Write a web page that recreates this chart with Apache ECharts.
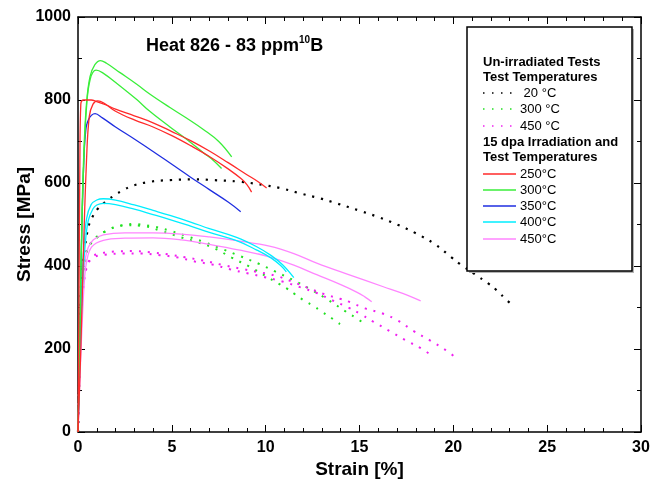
<!DOCTYPE html>
<html>
<head>
<meta charset="utf-8">
<script src="https://cdn.jsdelivr.net/npm/echarts@6/dist/echarts.min.js"></script>
<style>
  html, body { margin: 0; padding: 0; background: #fff; }
  #chart { width: 666px; height: 486px; }
</style>
</head>
<body>
<div id="chart"></div>
<script>
// [strain %, stress MPa]

// 15 dpa irradiated, test temperature
const irr250a = [[0,0],[0.05,300],[0.1,650],[0.15,790],[0.3,800],[0.7,800],[1.0,796],[1.5,788],[2,778],[3,762],[4,745],[5,724],[6,702],[7,677],[8,649],[9,620],[9.6,603],[10.05,588]];
const irr250b = [[0,0],[0.15,200],[0.3,450],[0.45,650],[0.6,760],[0.8,790],[1.05,798],[1.4,792],[2,773],[3,752],[4,735],[5,714],[6,690],[7,664],[8,634],[8.7,610],[9.0,596],[9.25,578]];
const irr300a = [[0,0],[0.1,250],[0.2,500],[0.3,660],[0.45,790],[0.64,856],[0.9,885],[1.2,895],[1.5,889],[2.24,866],[3.13,838],[3.84,814],[4.9,782],[5.8,756],[6.68,729],[7.5,700],[8.19,663]];
const irr300b = [[0,0],[0.1,250],[0.2,480],[0.3,640],[0.45,780],[0.65,850],[0.96,872],[1.3,866],[2.24,834],[3.13,801],[3.84,772],[4.9,735],[5.8,705],[6.68,673],[7.2,655],[7.65,635]];
const irr350 = [[0,0],[0.1,250],[0.2,480],[0.3,640],[0.4,720],[0.55,752],[0.91,767],[1.3,757],[2,735],[3,706],[4,676],[5,645],[6,614],[7,584],[8,554],[8.67,531]];
const irr400a = [[0,0],[0.1,200],[0.2,350],[0.3,440],[0.46,515],[0.7,548],[1.0,559],[1.35,562],[2,559],[3,547],[4,534],[4.9,522],[6,506],[7,490],[8.45,469],[9.5,447],[10.3,425],[10.9,403],[11.5,372]];
const irr400b = [[0,0],[0.12,200],[0.25,360],[0.38,450],[0.55,510],[0.8,538],[1.0,547],[1.35,551],[2,548],[3,537],[4,524],[4.9,512],[6,496],[7,481],[8.45,461],[9.5,439],[10.3,419],[10.8,401],[11.1,386]];
const irr450a = [[0,0],[0.1,150],[0.2,290],[0.28,374],[0.4,420],[0.55,445],[0.82,463],[1.35,475],[2.5,480],[4,480],[5.5,477],[7,470],[8.63,460],[10.2,448],[11.5,430],[12.72,407],[14.5,378],[16.27,350],[17.3,334],[18.26,316]];
const irr450b = [[0,0],[0.12,150],[0.25,290],[0.35,370],[0.46,410],[0.73,446],[1.35,462],[2.5,467],[4,468],[5.5,463],[7,452],[8.63,438],[9.5,430],[10.2,422],[11.5,402],[12.72,379],[14,355],[14.9,336],[15.3,325],[15.65,314]];

// un-irradiated, test temperature
const unirr20 = [[0,0],[0.05,100],[0.1,230],[0.2,390],[0.37,446],[0.55,493],[0.73,515],[1.08,539],[1.53,557],[1.97,571],[2.41,583],[2.95,594],[3.84,603],[4.9,607],[6.23,609],[7.21,607],[8.63,603],[10.05,594],[10.94,586],[11.92,574],[12.9,563],[13.78,551],[15.02,533],[16,518],[17,500],[18,479],[19,453],[19.9,421],[20.35,405],[21.15,380],[21.86,358],[22.3,342],[22.84,318],[23.28,302]];
const unirr300a = [[0,0],[0.1,200],[0.2,320],[0.4,420],[0.64,451],[1.08,471],[1.53,485],[2.06,495],[2.95,501],[3.92,496],[4.9,485],[5.79,472],[6.77,457],[7.74,440],[8.63,424],[9.6,406],[10.5,387],[11.47,366],[12.45,342],[13.34,318],[14.31,289],[14.84,274],[15.3,260]];
const unirr300b = [[0,0],[0.1,200],[0.2,320],[0.45,430],[0.8,462],[1.53,485],[2.5,498],[3.39,497],[4.46,484],[5.43,470],[6.32,458],[7.3,442],[8.19,420],[9.16,398],[10.14,372],[10.67,358],[11.12,346],[11.56,332],[12.0,318],[12.54,304],[12.98,290],[13.52,274],[13.96,260]];
const unirr450a = [[0,0],[0.1,180],[0.2,300],[0.4,390],[0.7,420],[1.0,428],[1.97,435],[2.95,436],[3.84,433],[4.81,428],[5.7,421],[6.68,413],[7.65,403],[8.63,394],[9.52,386],[10.5,377],[11.38,363],[12.27,347],[13.07,333],[13.96,321],[14.49,313],[15.29,298],[16.27,285],[17.07,268],[17.86,244],[18.75,221],[19.64,196],[20.08,181]];
const unirr450b = [[0,0],[0.1,180],[0.2,300],[0.45,395],[0.8,420],[1.44,427],[2.41,430],[3.39,430],[4.37,426],[5.26,421],[6.23,411],[7.21,403],[8.1,392],[9.07,382],[9.96,373],[10.94,362],[11.83,349],[12.72,335],[13.52,318],[14.4,300],[15.07,284],[15.73,266],[16.62,243],[17.42,222],[18.31,201],[18.75,187]];

const FONT = '"Liberation Sans", Arial, sans-serif';
const C = { red: '#ff2a2a', green: '#3aee3a', blue: '#1f2ee0', cyan: '#00eeff', pink: '#ff85ff', black: '#000', dgreen: '#22e022', dpink: '#f020f0' };

function solid(data, color) {
  return { type: 'line', data: data, showSymbol: false, smooth: 0.4,
    lineStyle: { color: color, width: 1.3 }, z: 3, silent: true };
}
function dotted(data, color, w) {
  return { type: 'line', data: data, showSymbol: false, smooth: 0.4,
    lineStyle: { color: color, width: w, type: [w, 9 - w], cap: 'butt' }, z: 2, silent: true };
}

function axisX(pos, labels) {
  return {
    type: 'value', position: pos, min: 0, max: 30, interval: 5,
    axisLine: { show: true, onZero: false, lineStyle: { color: '#000', width: 1.5 } },
    axisTick: { show: true, inside: true, length: 7, lineStyle: { color: '#000', width: 1 } },
    minorTick: { show: true, splitNumber: 5, length: 4, lineStyle: { color: '#000', width: 1 } },
    splitLine: { show: false },
    axisLabel: { show: labels, color: '#000', fontFamily: FONT, fontWeight: 'bold', fontSize: 16, margin: 8 },
    name: labels ? 'Strain [%]' : '', nameLocation: 'middle', nameGap: 28, nameMoveOverlap: false,
    nameTextStyle: { color: '#000', fontFamily: FONT, fontWeight: 'bold', fontSize: 19 }
  };
}
function axisY(pos, labels) {
  return {
    type: 'value', position: pos, min: 0, max: 1000, interval: 200,
    axisLine: { show: true, onZero: false, lineStyle: { color: '#000', width: 1.5 } },
    axisTick: { show: true, inside: true, length: 7, lineStyle: { color: '#000', width: 1 } },
    minorTick: { show: true, splitNumber: 2, length: 4, lineStyle: { color: '#000', width: 1 } },
    splitLine: { show: false },
    axisLabel: { show: labels, color: '#000', fontFamily: FONT, fontWeight: 'bold', fontSize: 16, margin: 7,
      formatter: v => String(v) },
    name: labels ? 'Stress [MPa]' : '', nameLocation: 'middle', nameGap: 44, nameMoveOverlap: false,
    nameTextStyle: { color: '#000', fontFamily: FONT, fontWeight: 'bold', fontSize: 19 }
  };
}

// legend box drawn by hand (headings between the two groups)
const LX = 483, TX = 520;
function heading(text, y) {
  return { type: 'text', z: 102, style: { text: text, x: LX, y: y, font: 'bold 13px ' + FONT, fill: '#000', textVerticalAlign: 'middle' } };
}
function entry(text, y, color, dash, w) {
  return [
    { type: 'line', z: 102, shape: { x1: LX, y1: y, x2: dash ? 512 : 516, y2: y },
      style: { stroke: color, lineWidth: w, lineDash: dash || null } },
    { type: 'text', z: 102, style: { text: text, x: TX, y: y, font: '13px ' + FONT, fill: '#000', textVerticalAlign: 'middle' } }
  ];
}
const legendItems = [
  { type: 'rect', z: 100, shape: { x: 469, y: 29, width: 165, height: 244 }, style: { fill: '#b4b4b4' } },
  { type: 'rect', z: 101, shape: { x: 467, y: 27, width: 165, height: 244 }, style: { fill: '#fff', stroke: '#000', lineWidth: 1.5 } },
  heading('Un-irradiated Tests', 62),
  heading('Test Temperatures', 77),
  ...entry(' 20 °C', 93, C.black, [1.5, 7.5], 1.5),
  ...entry('300 °C', 109, C.dgreen, [1.5, 7.5], 1.5),
  ...entry('450 °C', 126, C.dpink, [1.5, 7.5], 1.5),
  heading('15 dpa Irradiation and', 142),
  heading('Test Temperatures', 157),
  ...entry('250°C', 174, C.red, null, 1.5),
  ...entry('300°C', 190, C.green, null, 1.5),
  ...entry('350°C', 206, C.blue, null, 1.5),
  ...entry('400°C', 222, C.cyan, null, 1.5),
  ...entry('450°C', 239, C.pink, null, 1.5)
];

const chart = echarts.init(document.getElementById('chart'));
chart.setOption({
  animation: false,
  backgroundColor: '#fff',
  title: {
    left: 146, top: 35, padding: 0,
    text: '{a|Heat 826 - 83 ppm}{s|10}{a|B}',
    textStyle: { rich: {
      a: { fontFamily: FONT, fontWeight: 'bold', fontSize: 18, color: '#000', lineHeight: 20, verticalAlign: 'bottom' },
      s: { fontFamily: FONT, fontWeight: 'bold', fontSize: 10, color: '#000', lineHeight: 20, verticalAlign: 'top' }
    } }
  },
  grid: { left: 78, right: 25, top: 17, bottom: 54, containLabel: false, outerBoundsMode: 'none' },
  xAxis: [axisX('bottom', true), axisX('top', false)],
  yAxis: [axisY('left', true), axisY('right', false)],
  series: [
    dotted(unirr20, C.black, 2.2),
    dotted(unirr300a, C.dgreen, 2), dotted(unirr300b, C.dgreen, 2),
    dotted(unirr450a, C.dpink, 2), dotted(unirr450b, C.dpink, 2),
    solid(irr450a, C.pink), solid(irr450b, C.pink),
    solid(irr400a, C.cyan), solid(irr400b, C.cyan),
    solid(irr350, C.blue),
    solid(irr300a, C.green), solid(irr300b, C.green),
    solid(irr250a, C.red), solid(irr250b, C.red)
  ],
  graphic: legendItems
});
</script>
</body>
</html>
